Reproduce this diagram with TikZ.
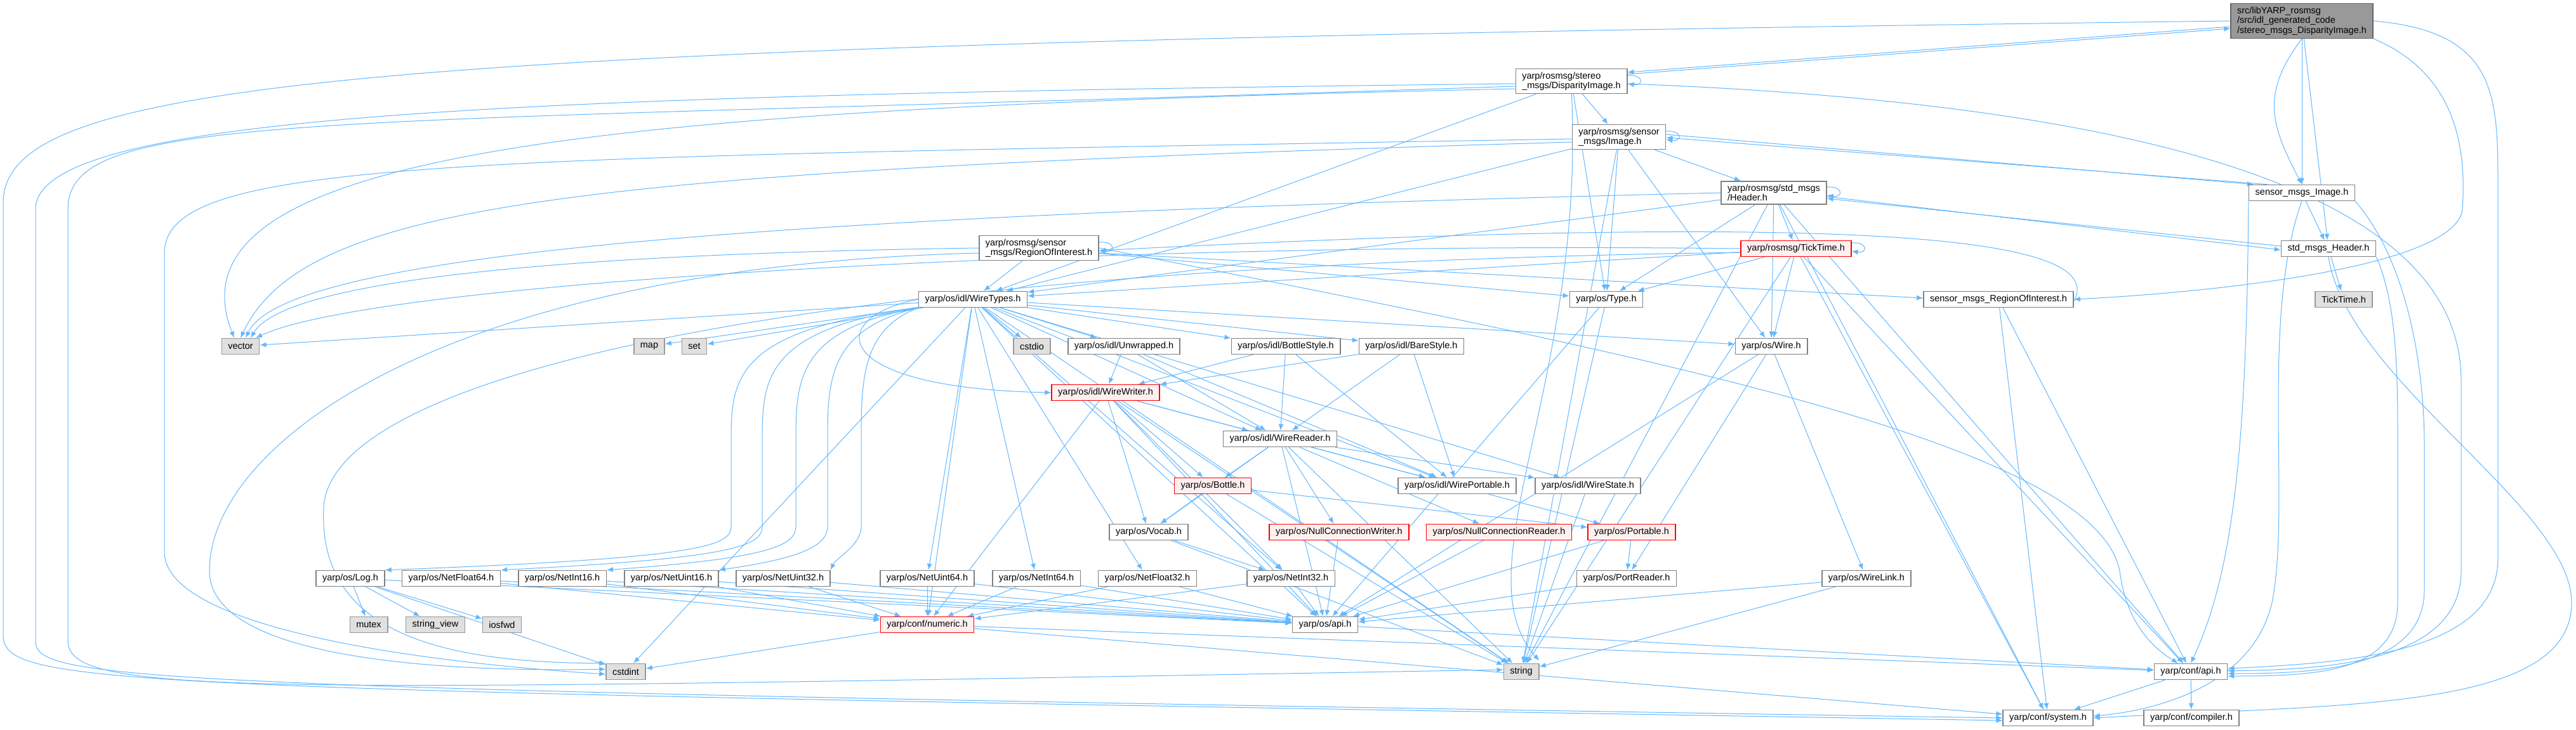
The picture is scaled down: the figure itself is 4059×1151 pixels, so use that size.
\documentclass[tikz,border=0pt]{standalone}
\usepackage{fontspec}
\setmainfont{Liberation Sans}
\usetikzlibrary{arrows.meta,positioning,calc,backgrounds}
\definecolor{edgeblue}{HTML}{63B8FF}
\definecolor{boxgray}{HTML}{999999}
\definecolor{sysgray}{HTML}{E0E0E0}
\definecolor{redfill}{HTML}{FFF0F0}

\tikzset{
  file/.style={draw=black!50, fill=white, line width=1.5pt, inner xsep=10pt, inner ysep=5pt,
    minimum height=25pt, align=left, font=\fontsize{14.5}{15.5}\selectfont},
  sysfile/.style={file, draw=boxgray, fill=sysgray},
  redfile/.style={file, draw=red, fill=redfill},
  mainfile/.style={file, draw=black!60, fill=boxgray},
  dep/.style={draw=edgeblue, line width=1pt, -{Latex[length=10pt,width=8pt]}},
}

\begin{document}
\begin{tikzpicture}[x=1pt,y=1pt]
\useasboundingbox (0,0) rectangle (4059,-1151);

% rank 0 - 5
\node[mainfile] (M) at (3627,-33) {src/libYARP\_rosmsg\\/src/idl\_generated\_code\\/stereo\_msgs\_DisparityImage.h};
\node[file] (DI) at (2476,-128) {yarp/rosmsg/stereo\\\_msgs/DisparityImage.h};
\node[file] (RI) at (2551,-216) {yarp/rosmsg/sensor\\\_msgs/Image.h};
\node[file] (RH) at (2795,-304) {yarp/rosmsg/std\_msgs\\/Header.h};
\node[file] (SMI) at (3627,-304) {sensor\_msgs\_Image.h};
\node[file] (RR) at (1637,-391) {yarp/rosmsg/sensor\\\_msgs/RegionOfInterest.h};
\node[redfile] (TT) at (2830,-392) {yarp/rosmsg/TickTime.h};
\node[file] (SMH) at (3669,-392) {std\_msgs\_Header.h};
\node[file] (WT) at (1533,-472) {yarp/os/idl/WireTypes.h};
\node[file] (TY) at (2531,-472) {yarp/os/Type.h};
\node[file] (SMR) at (3149,-472) {sensor\_msgs\_RegionOfInterest.h};
\node[sysfile] (TTg) at (3693,-472) {TickTime.h};

% rank 6 - 10
\node[sysfile] (vector) at (379,-546) {vector};
\node[sysfile] (map) at (1023,-546) {map};
\node[sysfile] (set) at (1094,-546) {set};
\node[sysfile] (cstdio) at (1626,-546) {cstdio};
\node[file] (UW) at (1771,-546) {yarp/os/idl/Unwrapped.h};
\node[file] (BS) at (2026,-546) {yarp/os/idl/BottleStyle.h};
\node[file] (BA) at (2224,-546) {yarp/os/idl/BareStyle.h};
\node[file] (WI) at (2791,-546) {yarp/os/Wire.h};
\node[redfile] (WW) at (1742,-619) {yarp/os/idl/WireWriter.h};
\node[file] (WR) at (2017,-692) {yarp/os/idl/WireReader.h};
\node[redfile] (BO) at (1911,-766) {yarp/os/Bottle.h};
\node[file] (WP) at (2296,-766) {yarp/os/idl/WirePortable.h};
\node[file] (WS) at (2502,-766) {yarp/os/idl/WireState.h};
\node[file] (VO) at (1810,-839) {yarp/os/Vocab.h};
\node[redfile] (NCW) at (2110,-839) {yarp/os/NullConnectionWriter.h};
\node[redfile] (NCR) at (2362,-839) {yarp/os/NullConnectionReader.h};
\node[redfile] (PO) at (2571,-839) {yarp/os/Portable.h};

% rank 11 - 14
\node[file] (LOG) at (552,-912) {yarp/os/Log.h};
\node[file] (NF64) at (711,-912) {yarp/os/NetFloat64.h};
\node[file] (NI16) at (886,-912) {yarp/os/NetInt16.h};
\node[file] (NU16) at (1058,-912) {yarp/os/NetUint16.h};
\node[file] (NU32) at (1234,-912) {yarp/os/NetUint32.h};
\node[file] (NU64) at (1461,-912) {yarp/os/NetUint64.h};
\node[file] (NI64) at (1633,-912) {yarp/os/NetInt64.h};
\node[file] (NF32) at (1808,-912) {yarp/os/NetFloat32.h};
\node[file] (NI32) at (2034,-912) {yarp/os/NetInt32.h};
\node[file] (PR) at (2563,-912) {yarp/os/PortReader.h};
\node[file] (WL) at (2941,-912) {yarp/os/WireLink.h};
\node[sysfile] (mutex) at (581,-985) {mutex};
\node[sysfile] (sview) at (686,-985) {string\_view};
\node[sysfile] (iosfwd) at (791,-985) {iosfwd};
\node[redfile] (NUM) at (1461,-985) {yarp/conf/numeric.h};
\node[file] (OAPI) at (2088,-985) {yarp/os/api.h};
\node[sysfile] (cstdint) at (986,-1059) {cstdint};
\node[sysfile] (string) at (2397,-1059) {string};
\node[file] (CAPI) at (3452,-1059) {yarp/conf/api.h};
\node[file] (SYS) at (3227,-1132) {yarp/conf/system.h};
\node[file] (COMP) at (3453,-1132) {yarp/conf/compiler.h};

\begin{scope}[on background layer]
\fill[white] (0,0) rectangle (4059,-1151);

% self loops
\foreach \n in {DI,RI,RR,RH,TT}
  \draw[dep] ([yshift=9pt]\n.east) .. controls +(26,2) and +(26,-4) .. ([yshift=-4pt]\n.east);

% back and forth between generated and wrapper headers
\draw[dep] ([yshift=11pt]DI.east) -- ([yshift=-12pt]M.west);
\draw[dep] ([yshift=-9pt]M.west) -- ([yshift=14pt]DI.east);
\draw[dep] ([yshift=4pt]RI.east) -- ([xshift=8pt]SMI.north west);
\draw[dep] ([xshift=30pt]SMI.north west) -- ([yshift=-1pt]RI.east);
\draw[dep] ([yshift=-6pt]RH.east) -- ([yshift=-2pt]SMH.west);
\draw[dep] ([yshift=4pt]SMH.west) -- ([yshift=-9pt]RH.east);
\draw[dep] ([yshift=-8pt]RR.east) -- ([yshift=2pt]SMR.west);
\draw[dep] ([yshift=-3pt]SMR.east) .. controls (3320,-380) and (3000,-330) .. ([yshift=-4pt]RR.east);

% plain includes
\foreach \a/\b in {M/SMI, M/SMH, DI/RI, DI/TY, DI/WT, RI/RH, RI/TY, RI/WT, RI/WI,
  RH/TT, RH/WT, RH/TY, RH/WI, RR/WT, RR/TY, TT/WT, TT/TY, TT/WI, SMI/SMH, SMH/TTg,
  WT/cstdio, WT/UW, WT/BS, WT/BA, WT/WR, WT/WP, WT/WS, WT/WI, WT/map, WT/set,
  WT/vector, WT/NU64, WT/NI64, WT/NF32,
  WT/NI32, WT/NUM, WT/OAPI, WT/string, WT/cstdint,
  UW/WW, UW/WR, UW/WP, BS/WW, BS/WR, BS/WP, BA/WW, BA/WR, BA/WP,
  WI/OAPI, WI/WL, WI/PR, WW/WR, WW/VO, WW/BO, WW/WP, WW/NUM, WW/OAPI, WW/string, WW/NI32,
  WR/BO, WR/VO, WR/WP, WR/WS, WR/NCW, WR/NCR, WR/OAPI, WR/string,
  BO/VO, BO/PO, BO/string, WP/PO, WS/string, VO/NI32, VO/string,
  NCW/OAPI, NCR/OAPI, PO/PR, PO/OAPI, LOG/mutex, LOG/sview, LOG/iosfwd, LOG/OAPI, LOG/cstdint,
  NF64/NUM, NF64/OAPI, NI16/NUM, NI16/OAPI, NU16/NUM, NU16/OAPI, NU32/NUM, NU32/OAPI,
  NU64/NUM, NU64/OAPI, NI64/NUM, NI64/OAPI, NF32/NUM, NF32/OAPI, NI32/NUM, NI32/OAPI,
  PR/OAPI, WL/OAPI, WL/string, NUM/cstdint, NUM/CAPI, NUM/SYS, OAPI/CAPI, TY/OAPI, TY/string,
  CAPI/SYS, CAPI/COMP, TT/CAPI, TT/SYS, RH/CAPI, RH/SYS, SMR/CAPI, SMR/SYS,
  RH/string, TT/string, RI/string}
  \draw[dep] (\a) -- (\b);

% wire types fanning out to the left
\draw[dep] (WT.west) .. controls (1300,-500) and (1300,-612) .. (WW.west);
\foreach \t/\x in {LOG/1152, NF64/1201, NI16/1254, NU16/1304, NU32/1357}
  \draw[dep] (WT.south west) .. controls (\x,-520) and (\x,-600) .. (\x,-700) -- (\x,-830) .. controls (\x,-860) and (\x-40,-880) .. (\t.north east);

% long includes routed round the right
\draw[dep] (M.south) .. controls (3560,-150) and (3580,-200) .. (SMI.north);
\draw[dep] (M.south east) .. controls (3880,-120) and (3885,-250) .. (3880,-330) .. controls (3870,-420) and (3500,-460) .. (SMR.east);
\draw[dep] (M.east) .. controls (3936,-50) and (3936,-150) .. (3936,-300) -- (3936,-880) .. controls (3936,-1030) and (3700,-1045) .. ([yshift=5pt]CAPI.east);
\draw[dep] ([yshift=-4pt]DI.east) .. controls (3300,-160) and (3878,-280) .. (3878,-600) -- (3878,-900) .. controls (3878,-1050) and (3650,-1055) .. ([yshift=1pt]CAPI.east);
\draw[dep] (SMI.south east) .. controls (3800,-420) and (3820,-600) .. (3820,-700) -- (3820,-930) .. controls (3820,-1055) and (3650,-1062) .. ([yshift=-3pt]CAPI.east);
\draw[dep] (SMH.south east) .. controls (3778,-480) and (3778,-600) .. (3778,-700) -- (3778,-950) .. controls (3778,-1060) and (3650,-1066) .. ([yshift=-7pt]CAPI.east);
\draw[dep] (SMH.south) .. controls (3699,-600) and (4052,-800) .. (4052,-950) .. controls (4052,-1120) and (3700,-1110) .. (SYS.east);
\draw[dep] (SMI.south) .. controls (3561,-500) and (3610,-800) .. (3580,-950) .. controls (3550,-1080) and (3400,-1120) .. ([yshift=3pt]SYS.east);
\draw[dep] (SMI.south west) .. controls (3540,-700) and (3520,-900) .. (CAPI.north);
\draw[dep] (RR.east) .. controls (2600,-560) and (3300,-700) .. (3340,-900) .. controls (3350,-980) and (3390,-1020) .. ([xshift=-20pt]CAPI.north);
\draw[dep] ([yshift=6pt]DI.south) .. controls (2500,-600) and (2300,-900) .. ([yshift=4pt]string.north east);

% long includes routed round the left
\draw[dep] (M.west) .. controls (600,-70) and (5,-120) .. (5,-320) -- (5,-1000) .. controls (5,-1085) and (150,-1085) .. ([yshift=-4pt]SYS.west);
\draw[dep] ([yshift=-4pt]DI.west) .. controls (800,-150) and (56,-180) .. (56,-330) -- (56,-1010) .. controls (56,-1075) and (200,-1085) .. (SYS.west);
\draw[dep] ([yshift=-8pt]DI.west) .. controls (500,-200) and (107,-170) .. (107,-330) -- (107,-1010) .. controls (107,-1100) and (400,-1090) .. ([yshift=3pt]string.west);
\draw[dep] ([yshift=-12pt]DI.west) .. controls (1000,-170) and (250,-230) .. ([xshift=-10pt]vector.north);
\draw[dep] ([yshift=-3pt]RI.west) .. controls (700,-250) and (259,-250) .. (259,-400) -- (259,-870) .. controls (259,-980) and (600,-1040) .. ([yshift=-4pt]cstdint.west);
\draw[dep] ([yshift=-8pt]RI.west) .. controls (900,-270) and (480,-320) .. (vector.north);
\draw[dep] (RH.west) .. controls (1200,-340) and (450,-400) .. ([xshift=8pt]vector.north);
\draw[dep] (RR.west) .. controls (900,-400) and (450,-440) .. ([xshift=16pt]vector.north);
\draw[dep] (TT.west) .. controls (1800,-380) and (600,-440) .. ([xshift=24pt]vector.north);
\draw[dep] ([yshift=-8pt]RR.west) .. controls (700,-420) and (330,-700) .. (330,-900) .. controls (330,-1040) and (700,-1060) .. ([yshift=4pt]cstdint.west);
\draw[dep] ([yshift=-6pt]TT.west) .. controls (1200,-420) and (520,-600) .. (510,-800) .. controls (500,-1000) and (700,-1045) .. (cstdint.north west);
\end{scope}
\end{tikzpicture}
\end{document}
